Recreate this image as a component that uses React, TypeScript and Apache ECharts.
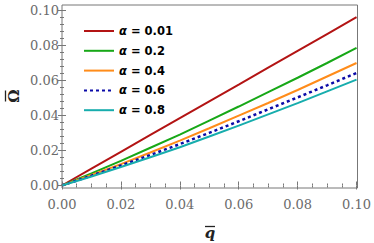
import React, { useEffect, useRef } from "react";
import * as echarts from "echarts";

const qValues = [0, 0.01, 0.02, 0.03, 0.04, 0.05, 0.06, 0.07, 0.08, 0.09, 0.1];
const seriesNames = ["0.01", "0.2", "0.4", "0.6", "0.8"];
const omega001 = [0, 0.0096, 0.0192, 0.0288, 0.0384, 0.048, 0.0575, 0.0671, 0.0767, 0.0863, 0.0959];
const omega02 = [0, 0.0069, 0.014, 0.0215, 0.029, 0.037, 0.045, 0.0532, 0.0614, 0.0698, 0.0784];
const omega04 = [0, 0.006, 0.0122, 0.0188, 0.0256, 0.0326, 0.0398, 0.047, 0.0544, 0.0621, 0.0698];
const omega06 = [0, 0.0056, 0.0114, 0.0174, 0.0236, 0.03, 0.0366, 0.0434, 0.0502, 0.0571, 0.0641];
const omega08 = [0, 0.0051, 0.0105, 0.0161, 0.0218, 0.0279, 0.0341, 0.0405, 0.0469, 0.0536, 0.0603];
const allSeries = [omega001, omega02, omega04, omega06, omega08];
const colors = ["#b31414", "#17a817", "#ff8c1a", "#0a0aa8", "#17adad"];

export default function App() {
  const ref = useRef<HTMLDivElement>(null);
  useEffect(() => {
    if (!ref.current) return;
    const chart = echarts.init(ref.current, null, { renderer: "svg" });
    const tickColor = "#777";
    const labelStyle = {
      fontFamily: "DejaVu Serif",
      fontSize: 13,
      color: "#6b6b6b",
    };
    const mkX = (pos: "bottom" | "top", offset: number, show: boolean) => ({
      type: "value" as const,
      position: pos,
      offset,
      min: 0,
      max: 0.1,
      interval: 0.02,
      axisLine: { show: false },
      axisTick: { show: true, inside: true, length: 4, lineStyle: { color: tickColor } },
      minorTick: { show: true, splitNumber: 4, length: 2, lineStyle: { color: tickColor } },
      splitLine: { show: false },
      axisLabel: { show, margin: 10, formatter: (v: number) => v.toFixed(2), ...labelStyle },
    });
    const mkY = (pos: "left" | "right", show: boolean) => ({
      type: "value" as const,
      position: pos,
      min: 0,
      max: 0.1,
      interval: 0.02,
      axisLine: { show: false },
      axisTick: { show: true, inside: true, length: 4, lineStyle: { color: tickColor } },
      minorTick: { show: true, splitNumber: 5, length: 2, lineStyle: { color: tickColor } },
      splitLine: { show: false },
      axisLabel: { show, margin: 3, formatter: (v: number) => v.toFixed(2), ...labelStyle },
    });
    chart.setOption({
      animation: false,
      grid: { left: 62, right: 16.5, top: 10, bottom: 57.5 },
      xAxis: [mkX("bottom", 2.5, true), mkX("top", 5, false)],
      yAxis: [mkY("left", true), mkY("right", false)],
      legend: {
        orient: "vertical",
        left: 78,
        top: 20,
        itemWidth: 30,
        itemHeight: 14,
        itemGap: 7.8,
        itemStyle: { opacity: 0 },
        data: seriesNames.map((n) => "α = " + n),
        formatter: (name: string) => "{a|α}{b|" + name.slice(1) + "}",
        textStyle: {
          rich: {
            a: { fontFamily: "DejaVu Sans", fontWeight: "bold", fontStyle: "italic", fontSize: 11.5, color: "#000" },
            b: { fontFamily: "DejaVu Sans", fontWeight: "bold", fontSize: 11.5, color: "#000" },
          },
        },
      },
      series: allSeries.map((vals, i) => ({
        name: "α = " + seriesNames[i],
        type: "line",
        symbol: "none",
        data: qValues.map((q, j) => [q, vals[j]]),
        lineStyle: {
          color: colors[i],
          width: i === 3 ? 2.5 : 2,
          type: i === 3 ? [3, 3] : "solid",
        },
        itemStyle: { color: colors[i] },
      })),
      graphic: [
        {
          type: "rect",
          shape: { x: 62, y: 5, width: 295.5, height: 183 },
          style: { fill: "none", stroke: "#777", lineWidth: 1 },
          z: 100,
        },
        {
          type: "group",
          x: 13,
          y: 96,
          rotation: Math.PI / 2,
          children: [
            {
              type: "text",
              x: 0,
              y: 1,
              style: {
                text: "Ω",
                fontFamily: "DejaVu Serif",
                fontWeight: "bold",
                fontSize: 15,
                fill: "#222",
                align: "center",
                verticalAlign: "middle",
              },
            },
            {
              type: "line",
              shape: { x1: -5.5, y1: -7.5, x2: 5.5, y2: -7.5 },
              style: { stroke: "#222", lineWidth: 1.3 },
            },
          ],
        },
        {
          type: "text",
          x: 210,
          y: 233,
          style: {
            text: "q",
            fontFamily: "DejaVu Serif",
            fontWeight: "bold",
            fontStyle: "italic",
            fontSize: 15,
            fill: "#222",
            align: "center",
            verticalAlign: "middle",
          },
        },
        {
          type: "line",
          shape: { x1: 205, y1: 226.5, x2: 215, y2: 226.5 },
          style: { stroke: "#222", lineWidth: 1.3 },
        },
      ],
    });
    return () => chart.dispose();
  }, []);
  return <div ref={ref} style={{ width: 374, height: 243, position: "absolute", left: 0, top: 0 }} />;
}
